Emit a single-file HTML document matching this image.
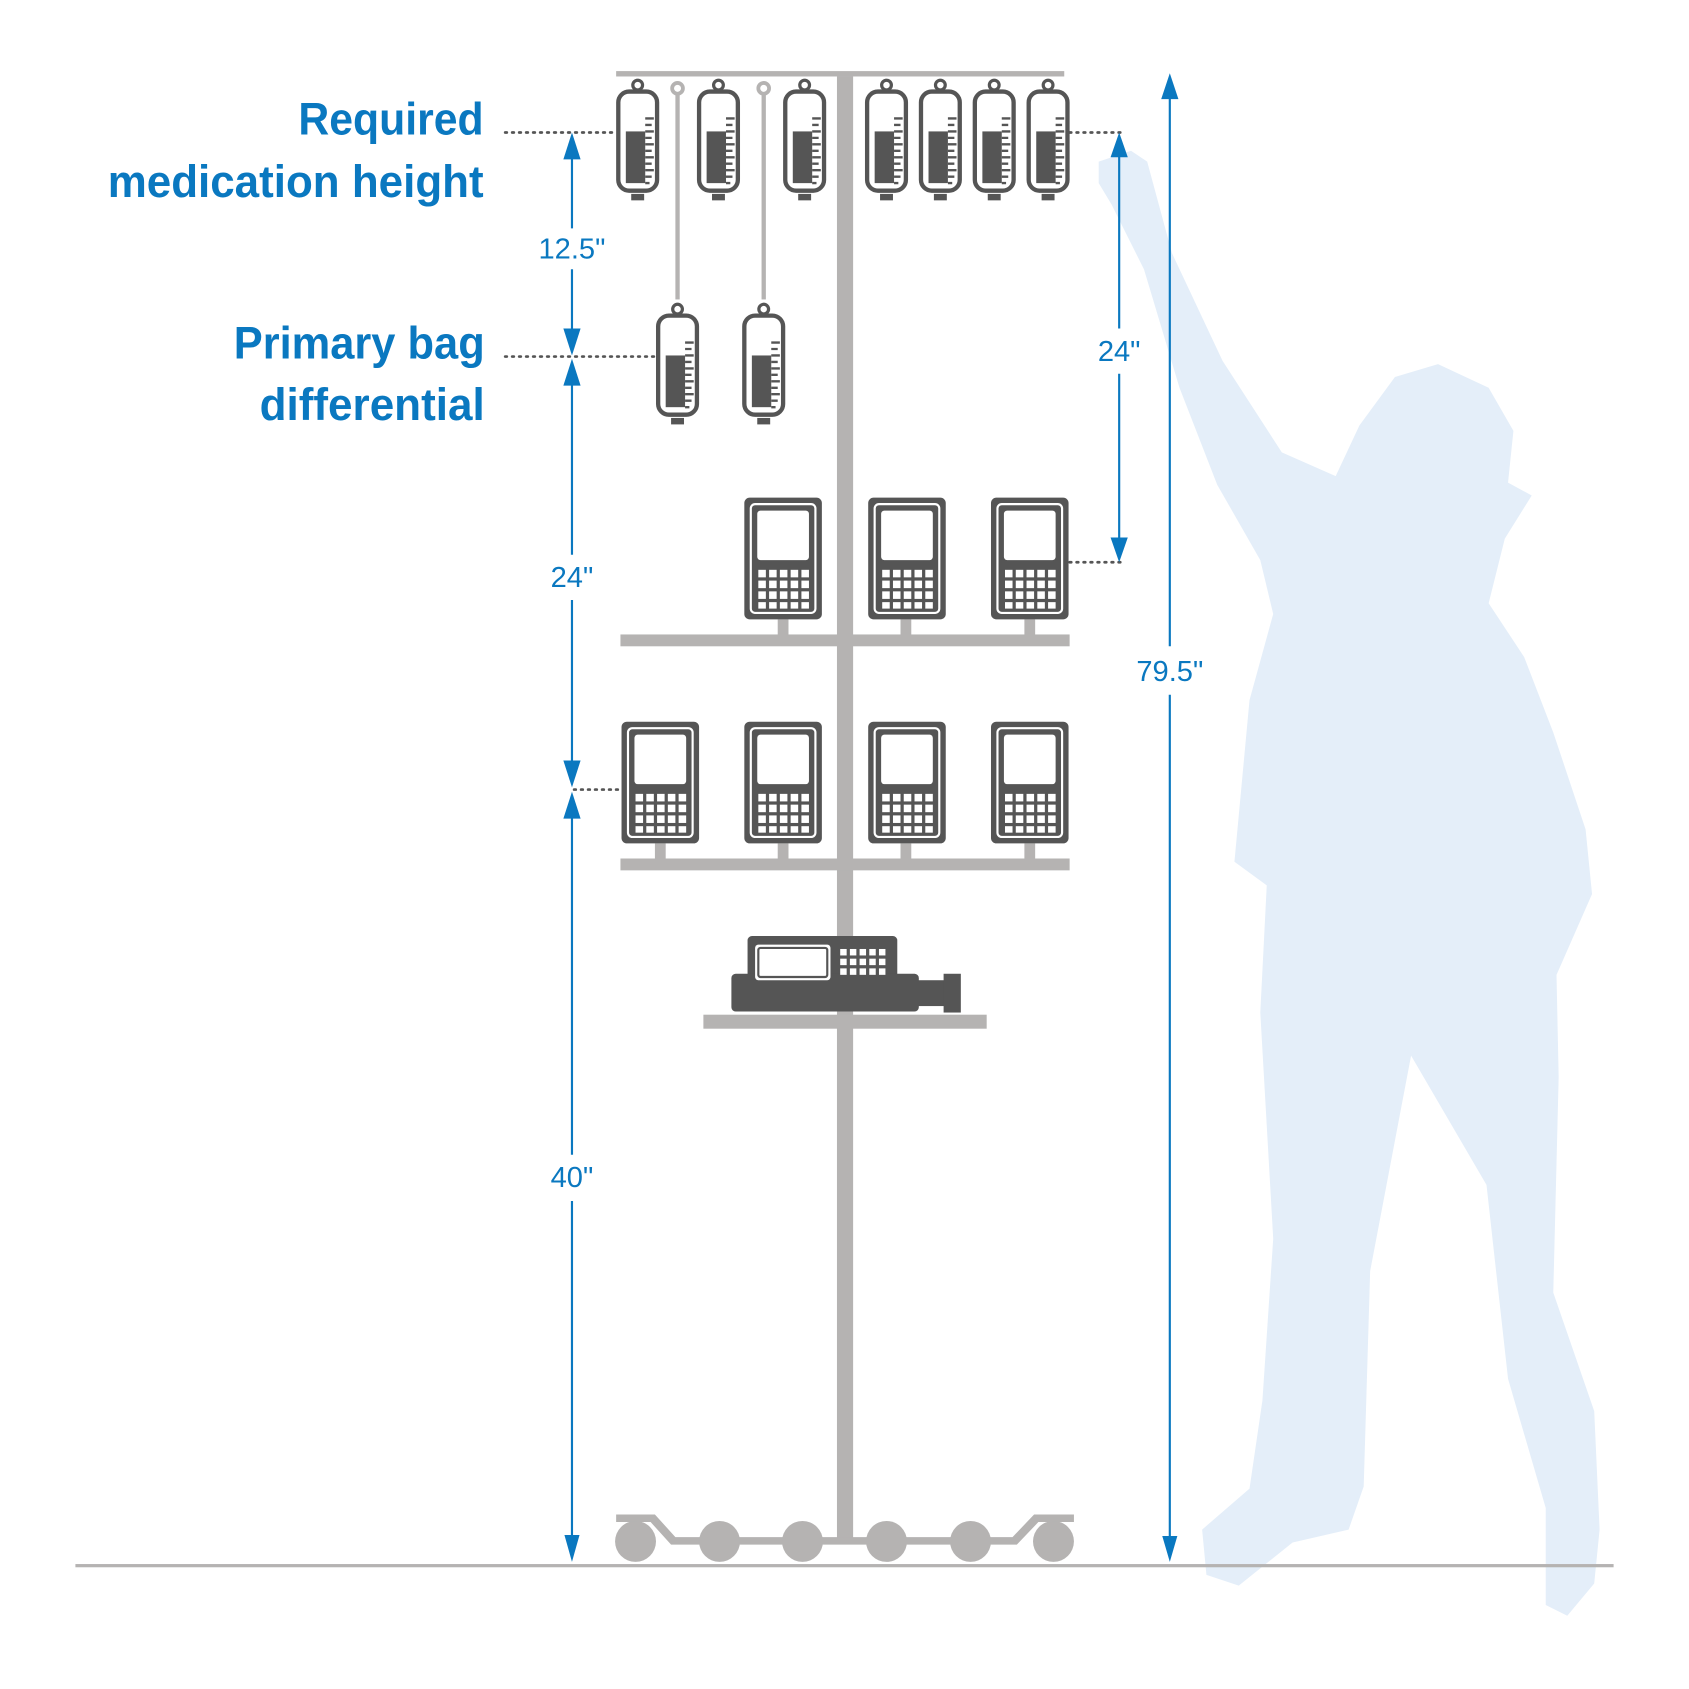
<!DOCTYPE html>
<html><head><meta charset="utf-8"><style>html,body{margin:0;padding:0;background:#fff}svg{display:block}</style></head>
<body>
<svg width="1689" height="1689" viewBox="0 0 1568 1568" xmlns="http://www.w3.org/2000/svg">
<defs>
<g id="bag">
<circle cx="0" cy="-6" r="4.5" fill="#fff" stroke="#555" stroke-width="3"/>
<rect x="-18" y="0" width="36" height="92" rx="10" fill="#fff" stroke="#555" stroke-width="4"/>
<rect x="-11" y="37" width="18" height="48" fill="#555"/>
<path d="M7 25h8M7 31h6M7 37h8M7 43h6M7 49h8M7 55h6M7 61h8M7 67h6M7 73h8M7 79h6M7 85h4" stroke="#555" stroke-width="2.2"/>
<rect x="-6" y="95" width="12" height="6" fill="#555"/>
</g>
<g id="pump">
<rect x="0" y="0" width="72" height="113" rx="5" fill="#555"/>
<rect x="6" y="6" width="60" height="101" rx="4" fill="none" stroke="#fff" stroke-width="2"/>
<rect x="12" y="12" width="48" height="46" rx="3" fill="#fff"/>
<g fill="#fff">
<rect x="13" y="67" width="7" height="7"/><rect x="23" y="67" width="7" height="7"/><rect x="33" y="67" width="7" height="7"/><rect x="43" y="67" width="7" height="7"/><rect x="53" y="67" width="7" height="7"/>
<rect x="13" y="77" width="7" height="7"/><rect x="23" y="77" width="7" height="7"/><rect x="33" y="77" width="7" height="7"/><rect x="43" y="77" width="7" height="7"/><rect x="53" y="77" width="7" height="7"/>
<rect x="13" y="87" width="7" height="7"/><rect x="23" y="87" width="7" height="7"/><rect x="33" y="87" width="7" height="7"/><rect x="43" y="87" width="7" height="7"/><rect x="53" y="87" width="7" height="7"/>
<rect x="13" y="97" width="7" height="6"/><rect x="23" y="97" width="7" height="6"/><rect x="33" y="97" width="7" height="6"/><rect x="43" y="97" width="7" height="6"/><rect x="53" y="97" width="7" height="6"/>
</g>
</g>
</defs>

<path fill="#e4eef9" d="M1020,150 L1050,140 L1065,150 L1088,235 L1135,335 L1190,420 L1240,442 L1262,395 L1295,350 L1335,338 L1382,360 L1405,400 L1400,448 L1422,460 L1397,500 L1382,560 L1415,610 L1442,680 L1472,770 L1478,830 L1445,905 L1447,1000 L1442,1200 L1480,1310 L1485,1420 L1480,1470 L1455,1500 L1435,1490 L1435,1400 L1400,1280 L1380,1100 L1310,980 L1272,1180 L1266,1380 L1252,1420 L1200,1432 L1150,1472 L1120,1462 L1116,1420 L1160,1382 L1172,1300 L1182,1150 L1170,940 L1176,822 L1146,800 L1160,650 L1182,570 L1170,520 L1130,450 L1095,360 L1062,250 L1032,190 L1020,170 Z"/>

<rect x="70" y="1452" width="1428" height="3" fill="#b5b3b2"/>

<g fill="#b5b3b2">
<rect x="572" y="66" width="416" height="5"/>
<rect x="777" y="71" width="15" height="1360"/>
<rect x="576" y="589" width="417" height="11"/>
<rect x="576" y="797" width="417" height="11"/>
<rect x="653" y="942" width="263" height="13"/>
<rect x="722" y="575" width="10" height="15"/><rect x="836" y="575" width="10" height="15"/><rect x="951" y="575" width="10" height="15"/>
<rect x="608" y="783" width="10" height="15"/><rect x="722" y="783" width="10" height="15"/><rect x="836" y="783" width="10" height="15"/><rect x="951" y="783" width="10" height="15"/>
<path d="M572 1406 H608 L627 1427 H940 L960 1406 H997 V1413 H964 L944 1434 H623 L604 1413 H572 Z"/>
<circle cx="590" cy="1431" r="19"/><circle cx="668" cy="1431" r="19"/><circle cx="745" cy="1431" r="19"/><circle cx="823" cy="1431" r="19"/><circle cx="901" cy="1431" r="19"/><circle cx="978" cy="1431" r="19"/>
<rect x="627" y="86" width="4" height="192"/><rect x="707" y="86" width="4" height="192"/>
</g>
<circle cx="629" cy="82" r="5" fill="#fff" stroke="#b5b3b2" stroke-width="3.5"/>
<circle cx="709" cy="82" r="5" fill="#fff" stroke="#b5b3b2" stroke-width="3.5"/>

<use href="#bag" x="592" y="85"/><use href="#bag" x="667" y="85"/><use href="#bag" x="747" y="85"/>
<use href="#bag" x="823" y="85"/><use href="#bag" x="873" y="85"/><use href="#bag" x="923" y="85"/><use href="#bag" x="973" y="85"/>
<use href="#bag" x="629" y="293"/><use href="#bag" x="709" y="293"/>

<use href="#pump" x="691" y="462"/><use href="#pump" x="806" y="462"/><use href="#pump" x="920" y="462"/>
<use href="#pump" x="577" y="670"/><use href="#pump" x="691" y="670"/><use href="#pump" x="806" y="670"/><use href="#pump" x="920" y="670"/>

<g fill="#555">
<rect x="694" y="869" width="139" height="40" rx="4"/>
<rect x="679" y="904" width="174" height="35" rx="4"/>
<rect x="852" y="910" width="25" height="24"/>
<rect x="876" y="904" width="16" height="36"/>
</g>
<rect x="701" y="877" width="70" height="33" rx="3" fill="#fff"/>
<rect x="704" y="880" width="64" height="27" rx="2" fill="none" stroke="#555" stroke-width="2"/>
<g fill="#fff">
<rect x="780" y="881" width="6" height="6"/><rect x="789" y="881" width="6" height="6"/><rect x="798" y="881" width="6" height="6"/><rect x="807" y="881" width="6" height="6"/><rect x="816" y="881" width="6" height="6"/>
<rect x="780" y="890" width="6" height="6"/><rect x="789" y="890" width="6" height="6"/><rect x="798" y="890" width="6" height="6"/><rect x="807" y="890" width="6" height="6"/><rect x="816" y="890" width="6" height="6"/>
<rect x="780" y="899" width="6" height="6"/><rect x="789" y="899" width="6" height="6"/><rect x="798" y="899" width="6" height="6"/><rect x="807" y="899" width="6" height="6"/><rect x="816" y="899" width="6" height="6"/>
</g>

<g stroke="#555" stroke-width="2.5" stroke-dasharray="1.5 5" stroke-linecap="round" fill="none">
<path d="M469 123 H572"/><path d="M469 331 H610"/><path d="M533 733 H575"/>
<path d="M993 123 H1040"/><path d="M993 522 H1040"/>
</g>

<g stroke="#0a78c0" stroke-width="2" fill="none">
<path d="M531 140 V212"/><path d="M531 250 V315"/>
<path d="M531 350 V515"/><path d="M531 557 V715"/>
<path d="M531 752 V1072"/><path d="M531 1115 V1432"/>
<path d="M1039 140 V305"/><path d="M1039 347 V505"/>
<path d="M1086 85 V600"/><path d="M1086 645 V1432"/>
</g>
<g fill="#0a78c0">
<path d="M531 123 L523 148 H539 Z"/><path d="M531 330 L523 305 H539 Z"/>
<path d="M531 333 L523 358 H539 Z"/><path d="M531 731 L523 706 H539 Z"/>
<path d="M531 735 L523 760 H539 Z"/><path d="M531 1450 L524 1425 H538 Z"/>
<path d="M1039 123 L1031 146 H1047 Z"/><path d="M1039 522 L1031 499 H1047 Z"/>
<path d="M1086 68 L1078 92 H1094 Z"/><path d="M1086 1450 L1079 1426 H1093 Z"/>
</g>

<g font-family="Liberation Sans, DejaVu Sans, sans-serif" fill="#0a78c0">
<g font-weight="bold" font-size="42" text-anchor="end">
<text x="449" y="125" textLength="172" lengthAdjust="spacingAndGlyphs">Required</text>
<text x="449" y="183" textLength="349" lengthAdjust="spacingAndGlyphs">medication height</text>
<text x="450" y="333" textLength="233" lengthAdjust="spacingAndGlyphs">Primary bag</text>
<text x="450" y="390" textLength="209" lengthAdjust="spacingAndGlyphs">differential</text>
</g>
<g font-size="27" text-anchor="middle">
<text x="531" y="240">12.5"</text>
<text x="531" y="545">24"</text>
<text x="531" y="1102">40"</text>
<text x="1039" y="335">24"</text>
<text x="1086" y="632">79.5"</text>
</g>
</g>
</svg>
</body></html>
